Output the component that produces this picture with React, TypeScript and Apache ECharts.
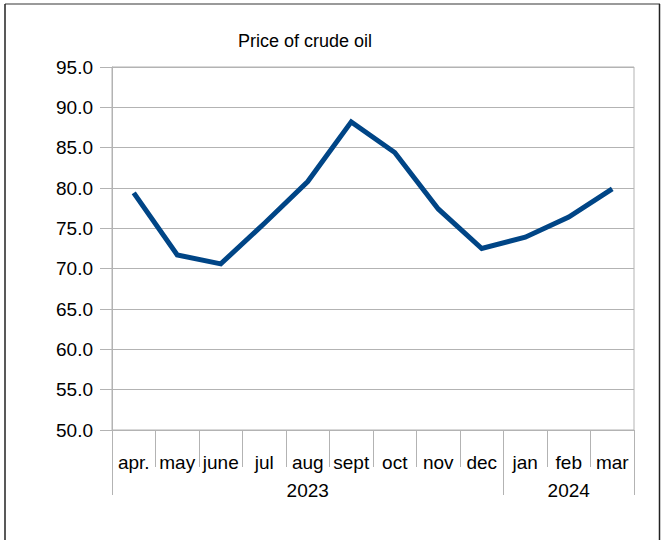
import React, { useEffect, useRef } from "react";
import * as echarts from "echarts";

const months = ["apr.", "may", "june", "jul", "aug", "sept", "oct", "nov", "dec", "jan", "feb", "mar"];
const yearLabels = ["", "", "", "", "2023", "", "", "", "", "", "2024", ""];
const yearStartIndices = [0, 9];
const prices = [79.4, 71.7, 70.6, 75.6, 80.8, 88.2, 84.4, 77.4, 72.5, 73.9, 76.4, 79.9];
const titleText = "Price of crude oil";

const FONT = "'Liberation Sans', Arial, sans-serif";
const GRID = "#b3b3b3";

export default function App() {
  const ref = useRef<HTMLDivElement>(null);
  useEffect(() => {
    if (!ref.current) return;
    const chart = echarts.init(ref.current, null, { renderer: "svg" });
    chart.setOption({
      animation: false,
      backgroundColor: "#ffffff",
      textStyle: { fontFamily: FONT },
      title: {
        text: titleText,
        left: 233,
        top: 27,
        textStyle: { fontFamily: FONT, fontSize: 18, fontWeight: "normal", color: "#000" },
      },
      grid: {
        left: 112,
        right: 27,
        top: 67,
        bottom: 110,
        show: true,
        borderColor: GRID,
        borderWidth: 1,
        containLabel: false,
      },
      xAxis: [
        {
          type: "category",
          data: months,
          boundaryGap: true,
          position: "bottom",
          axisLine: { show: true, lineStyle: { color: GRID, width: 1 } },
          axisTick: { show: true, interval: 0, length: 37, lineStyle: { color: GRID, width: 1 } },
          axisLabel: { interval: 0, fontSize: 19, color: "#000", margin: 23, fontFamily: FONT },
          splitLine: { show: false },
        },
        {
          type: "category",
          data: yearLabels,
          boundaryGap: true,
          position: "bottom",
          min: 0,
          max: months.length - 1,
          axisLine: { show: false },
          axisTick: {
            show: true,
            interval: (i: number) => yearStartIndices.indexOf(i) >= 0,
            length: 65,
            lineStyle: { color: GRID, width: 1 },
          },
          axisLabel: { interval: 0, fontSize: 19, color: "#000", margin: 51, fontFamily: FONT },
          splitLine: { show: false },
        },
      ],
      yAxis: {
        type: "value",
        min: 50,
        max: 95,
        interval: 5,
        axisLine: { show: true, lineStyle: { color: GRID, width: 1 } },
        axisTick: { show: true, length: 12, lineStyle: { color: GRID, width: 1 } },
        axisLabel: {
          fontSize: 19,
          color: "#000",
          margin: 19,
          fontFamily: FONT,
          formatter: (v: number) => v.toFixed(1),
        },
        splitLine: { show: true, lineStyle: { color: GRID, width: 1 } },
      },
      series: [
        {
          type: "line",
          xAxisIndex: 0,
          data: prices,
          showSymbol: false,
          symbol: "none",
          lineStyle: { color: "#004586", width: 5, join: "miter" },
          itemStyle: { color: "#004586" },
        },
      ],
      graphic: [
        { type: "line", shape: { x1: 5, y1: 4, x2: 660, y2: 4 }, style: { stroke: "#9a9a9a", lineWidth: 2 } },
        { type: "line", shape: { x1: 5, y1: 4, x2: 5, y2: 540 }, style: { stroke: "#222", lineWidth: 1.5 } },
        { type: "line", shape: { x1: 659.5, y1: 4, x2: 659.5, y2: 540 }, style: { stroke: "#222", lineWidth: 1.5 } },
      ],
    });
    return () => chart.dispose();
  }, []);
  return (
    <div
      ref={ref}
      style={{ position: "fixed", left: 0, top: 0, width: 661, height: 540, background: "#fff" }}
    />
  );
}
